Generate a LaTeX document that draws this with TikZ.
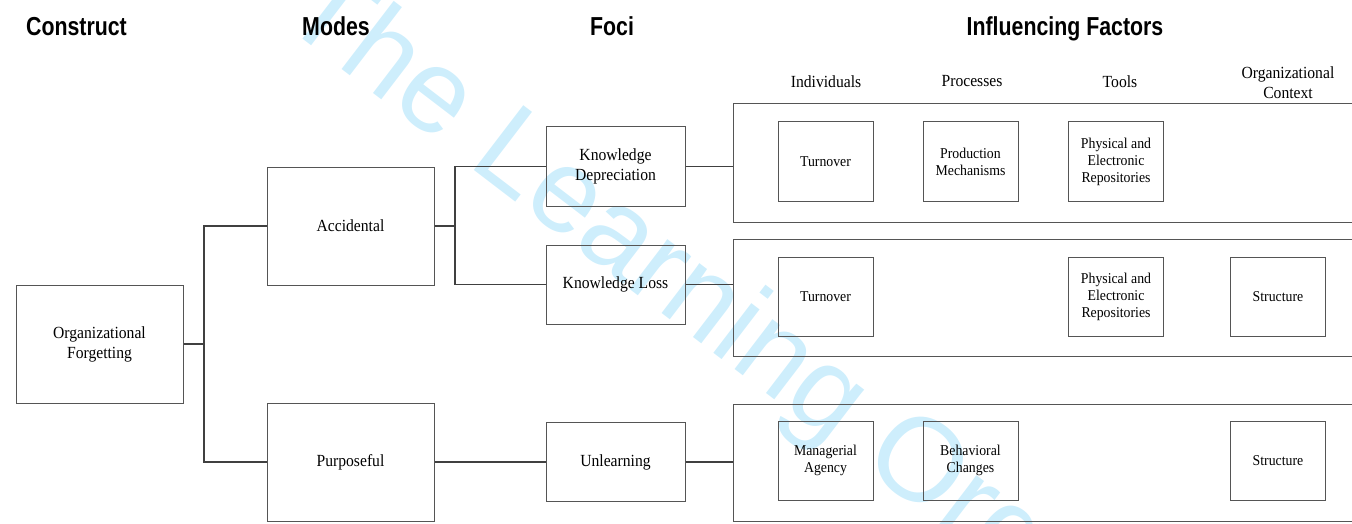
\documentclass[tikz,border=0pt]{standalone}
\usepackage{fontspec}
\setmainfont[FakeStretch=0.92]{Liberation Serif}
\newfontfamily\hdfont[FakeStretch=0.82]{Liberation Sans}
\newfontfamily\wmfont{Liberation Sans}
\definecolor{wmcol}{RGB}{206,238,252}
\definecolor{boxline}{RGB}{85,85,85}
\definecolor{conncol}{RGB}{64,64,64}
\begin{document}
\begin{tikzpicture}[x=1pt,y=-1pt,
  bigbox/.style={draw=boxline, line width=1pt, align=center, inner sep=0pt,
    minimum width=167pt, minimum height=118pt, font=\fontsize{17}{20}\selectfont},
  focbox/.style={bigbox, minimum width=139pt, minimum height=79pt},
  factbox/.style={draw=boxline, line width=1pt, align=center, inner sep=0pt,
    minimum width=95pt, minimum height=79pt, font=\fontsize{15}{17}\selectfont},
  grpbox/.style={draw=none, inner sep=0pt, outer sep=0pt,
    minimum width=619pt, minimum height=118pt},
  grpline/.style={draw=boxline, line width=1pt},
  hd/.style={font=\hdfont\bfseries\fontsize{26}{30}\selectfont, inner sep=0pt, anchor=base},
  subhd/.style={font=\fontsize{17}{20}\selectfont, align=center, inner sep=0pt},
  conn/.style={draw=conncol, line width=1.8pt}
]
\useasboundingbox (0,0) rectangle (1352,524);
% watermark
\begin{scope}
  \clip (0,0) rectangle (1352,524);
  \node[text=wmcol, font=\wmfont\fontsize{118.5}{125}\selectfont, inner sep=0pt,
        anchor=base west, rotate=-37.4] (wm) at (278.3,20.1) {The Learning Org};
\end{scope}

% headers
\node[hd] (h1) at (76.5,35.5) {Construct};
\node[hd] (h2) at (336,35.5) {Modes};
\node[hd] (h3) at (612,35.5) {Foci};
\node[hd] (h4) at (1065,35.5) {Influencing Factors};

\node[subhd] (s1) at (826,81.5) {Individuals};
\node[subhd] (s2) at (972,81.5) {Processes};
\node[subhd] (s3) at (1120,81.5) {Tools};
\node[subhd] (s4) at (1288,82.5) {Organizational\\Context};

% main boxes
\node[bigbox] (of) at (99.5,344) {Organizational\\Forgetting};
\node[bigbox] (acc) at (350.5,226) {Accidental};
\node[bigbox] (pur) at (350.5,462) {Purposeful};
\node[focbox] (kd) at (615.5,166.5) {Knowledge\\Depreciation};
\node[focbox] (kl) at (615.5,284.5) {Knowledge Loss};
\node[focbox] (un) at (615.5,462) {Unlearning};

% group boxes (open at right edge)
\node[grpbox] (g1) at (1042.5,163) {};
\node[grpbox, minimum height=117pt] (g2) at (1042.5,297.5) {};
\node[grpbox, minimum height=117pt] (g3) at (1042.5,462.5) {};
\foreach \g in {g1,g2,g3}
  \draw[grpline] (\g.north east) -- (\g.north west) -- (\g.south west) -- (\g.south east);

% factor boxes
\node[factbox] (t1) at (825.5,161.5) {Turnover};
\node[factbox] (p1) at (970.5,161.5) {Production\\Mechanisms};
\node[factbox] (r1) at (1116,161.5) {Physical and\\Electronic\\Repositories};

\node[factbox] (t2) at (825.5,296.5) {Turnover};
\node[factbox] (r2) at (1116,296.5) {Physical and\\Electronic\\Repositories};
\node[factbox] (st2) at (1278,296.5) {Structure};

\node[factbox] (m3) at (825.5,460.5) {Managerial\\Agency};
\node[factbox] (b3) at (970.5,460.5) {Behavioral\\Changes};
\node[factbox] (st3) at (1278,460.5) {Structure};

% connectors
\coordinate (j1) at (204,344);
\coordinate (j2) at (455,226);
\draw[conn] (of.east) -- (j1);
\draw[conn] (acc.west) -| (j1) |- (pur.west);
\draw[conn] (acc.east) -- (j2);
\draw[conn] (kd.west) -| (j2) |- (kl.west);
\draw[conn] (pur.east) -- (un.west);
\draw[conn] (kd.east) -- (kd.east -| g1.west);
\draw[conn] (kl.east) -- (kl.east -| g2.west);
\draw[conn] (un.east) -- (un.east -| g3.west);
\end{tikzpicture}
\end{document}
